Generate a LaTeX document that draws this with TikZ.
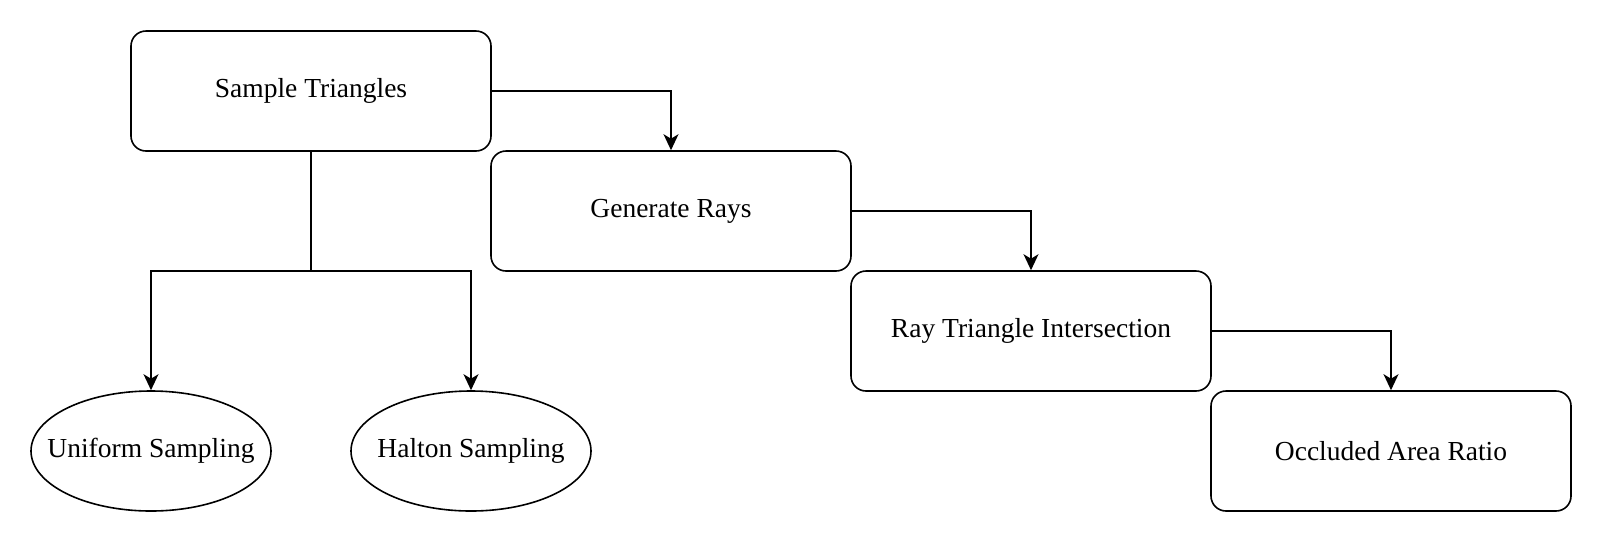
\documentclass[tikz,border=0pt]{standalone}
\usepackage{fontspec}
\setmainfont{Liberation Serif}
\usetikzlibrary{arrows.meta,shapes.geometric}
\begin{document}
\begin{tikzpicture}[x=1pt,y=-1pt,
  every node/.style={font=\fontsize{27.5}{33}\selectfont},
  procbox/.style={draw=black,line width=1.6pt,rounded corners=15pt,rectangle,minimum width=360pt,minimum height=120pt,inner sep=0pt},
  ovalbox/.style={draw=black,line width=1.6pt,ellipse,minimum width=240pt,minimum height=120pt,inner xsep=-60pt,inner ysep=0pt},
  link/.style={draw=black,line width=1.6pt},
  arr/.style={link,-{Stealth[length=16pt,width=15pt,inset=4.5pt]}}]
\useasboundingbox (0,0) rectangle (1602,558);
\node[procbox] (st) at (311,91) {Sample Triangles};
\node[procbox] (gr) at (671,211) {Generate Rays};
\node[procbox] (rti) at (1031,331) {Ray Triangle Intersection};
\node[procbox] (oar) at (1391,451) {Occluded Area Ratio};
\node[ovalbox] (us) at (151,451) {Uniform Sampling};
\node[ovalbox] (hs) at (471,451) {Halton Sampling};
\coordinate (j) at (311,271);
\draw[arr] (st.east) -| (gr.north);
\draw[arr] (gr.east) -| (rti.north);
\draw[arr] (rti.east) -| (oar.north);
\draw[link] (st.south) -- (j);
\draw[arr] (j) -| (us.north);
\draw[arr] (j) -| (hs.north);
\end{tikzpicture}
\end{document}
